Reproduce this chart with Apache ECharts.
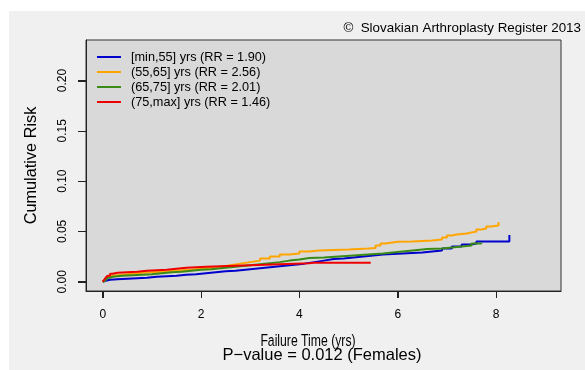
<!DOCTYPE html>
<html>
<head>
<meta charset="utf-8">
<script src="https://cdn.jsdelivr.net/npm/echarts@6/dist/echarts.min.js"></script>
<style>
html,body{margin:0;padding:0;background:#fff}
#wrap{position:relative;width:585px;height:370px;background:#fff}
#panel{position:absolute;left:9px;top:11px;right:0;bottom:0;background:#f0f0f0}
#c{position:absolute;left:0;top:0;width:585px;height:370px}
</style>
</head>
<body>
<div id="wrap"><div id="panel"></div><div id="c"></div></div>
<script>
// ---- data ----
const seriesNames = ['[min,55] yrs (RR = 1.90)', '(55,65] yrs (RR = 2.56)', '(65,75] yrs (RR = 2.01)', '(75,max] yrs (RR = 1.46)'];
const xTicks = [0, 2, 4, 6, 8];
const yTicks = [0, 0.05, 0.10, 0.15, 0.20];

const tBlue = [0, 0.03, 0.06, 0.1, 0.15, 0.3, 0.5, 0.7, 0.9, 1.1, 1.3, 1.5, 1.7, 1.9, 2.1, 2.3, 2.5, 2.7, 2.9, 3.1, 3.3, 3.5, 3.7, 3.9, 4.1, 4.3, 4.5, 4.7, 4.9, 5.1, 5.3, 5.5, 5.7, 5.9, 6.1, 6.3, 6.5, 6.7, 6.9, 7.1, 7.3, 7.5, 7.6, 8.27, 8.27];
const vBlue = [0, 0.001, 0.0015, 0.002, 0.0025, 0.003, 0.0035, 0.004, 0.005, 0.0055, 0.006, 0.007, 0.0075, 0.0085, 0.0095, 0.0105, 0.011, 0.012, 0.013, 0.014, 0.015, 0.016, 0.017, 0.018, 0.0195, 0.021, 0.0225, 0.023, 0.024, 0.025, 0.026, 0.027, 0.0275, 0.028, 0.0285, 0.029, 0.030, 0.031, 0.033, 0.035, 0.037, 0.038, 0.040, 0.040, 0.0465];

const tOrange = [0, 0.03, 0.06, 0.1, 0.15, 0.2, 0.4, 0.6, 0.8, 1.0, 1.2, 1.4, 1.6, 1.8, 2.0, 2.2, 2.4, 2.6, 2.8, 3.0, 3.2, 3.4, 3.6, 3.8, 4.0, 4.2, 4.4, 4.7, 5.0, 5.2, 5.4, 5.55, 5.65, 5.75, 6.0, 6.3, 6.5, 6.7, 6.9, 7.0, 7.1, 7.2, 7.3, 7.4, 7.5, 7.6, 7.7, 7.8, 7.9, 8.05];
const vOrange = [0, 0.002, 0.004, 0.005, 0.006, 0.007, 0.008, 0.009, 0.0095, 0.010, 0.011, 0.0115, 0.012, 0.013, 0.014, 0.015, 0.0165, 0.018, 0.0195, 0.021, 0.023, 0.025, 0.027, 0.028, 0.030, 0.031, 0.0315, 0.032, 0.0325, 0.033, 0.0335, 0.036, 0.038, 0.0398, 0.040, 0.0405, 0.041, 0.042, 0.044, 0.046, 0.047, 0.0475, 0.048, 0.049, 0.050, 0.052, 0.053, 0.055, 0.056, 0.0595];

const tGreen = [0, 0.03, 0.06, 0.1, 0.15, 0.2, 0.4, 0.6, 0.8, 1.0, 1.2, 1.4, 1.6, 1.8, 2.0, 2.2, 2.4, 2.6, 2.8, 3.0, 3.2, 3.4, 3.6, 3.8, 4.0, 4.2, 4.5, 4.8, 5.1, 5.4, 5.7, 6.0, 6.3, 6.6, 6.9, 7.1, 7.3, 7.5, 7.7];
const vGreen = [0, 0.0015, 0.003, 0.004, 0.005, 0.006, 0.0065, 0.007, 0.0075, 0.0085, 0.0095, 0.010, 0.011, 0.012, 0.0125, 0.0135, 0.0145, 0.0155, 0.0165, 0.0175, 0.0185, 0.0195, 0.021, 0.022, 0.0235, 0.024, 0.025, 0.026, 0.027, 0.028, 0.0295, 0.031, 0.0325, 0.033, 0.034, 0.035, 0.036, 0.038, 0.039];

const tRed = [0, 0.03, 0.06, 0.1, 0.15, 0.2, 0.3, 0.5, 0.7, 0.9, 1.1, 1.3, 1.5, 1.7, 1.9, 2.1, 2.4, 2.7, 3.0, 3.3, 3.6, 3.9, 4.2, 4.3, 5.45];
const vRed = [0, 0.002, 0.004, 0.006, 0.008, 0.009, 0.0095, 0.010, 0.011, 0.0115, 0.012, 0.013, 0.014, 0.0145, 0.015, 0.0155, 0.016, 0.0165, 0.017, 0.0175, 0.018, 0.0185, 0.0188, 0.019, 0.019];

const colors = ['#0000CD', '#FFA500', '#3A8A18', '#EE0000'];
// ---------------

const X_MIN = -0.34, X_MAX = 9.32, Y_MIN = -0.0092, Y_MAX = 0.2403;

function pairs(t, v) { return t.map((x, i) => [x, v[i]]); }
const allData = [pairs(tBlue, vBlue), pairs(tOrange, vOrange), pairs(tGreen, vGreen), pairs(tRed, vRed)];

const chart = echarts.init(document.getElementById('c'), null, {renderer: 'canvas'});
const F = 'Arial, "Liberation Sans", sans-serif';

const lineSeries = seriesNames.map((n, i) => ({
  name: n, type: 'line', step: 'end', symbol: 'none', data: allData[i],
  lineStyle: {color: colors[i], width: 2}, itemStyle: {color: colors[i]}
}));

// tick marks drawn through the axis scales (outside the plot box)
const tickSeries = [
  {
    type: 'custom', clip: false, silent: true, z: 5,
    data: xTicks.map(v => [v, Y_MIN]),
    renderItem: function (params, api) {
      const p = api.coord([api.value(0), api.value(1)]);
      const x = Math.round(p[0]) + 0.5;
      return {type: 'line', shape: {x1: x, y1: p[1], x2: x, y2: p[1] + 7}, style: {stroke: '#222', lineWidth: 1}};
    }
  },
  {
    type: 'custom', clip: false, silent: true, z: 5,
    data: yTicks.map(v => [X_MIN, v]),
    renderItem: function (params, api) {
      const p = api.coord([api.value(0), api.value(1)]);
      const y = Math.round(p[1]) + 0.5;
      return {type: 'line', shape: {x1: p[0] - 8, y1: y, x2: p[0], y2: y}, style: {stroke: '#222', lineWidth: 1}};
    }
  }
];

chart.setOption({
  animation: false,
  backgroundColor: 'transparent',
  tooltip: {show: false},
  graphic: [
    {type: 'text', z: 10, x: 581, y: 28, style: {text: '\u00A9  Slovakian Arthroplasty Register 2013', font: '13.4px ' + F, fill: '#000', align: 'right', verticalAlign: 'middle'}},
    {type: 'text', z: 10, x: 308, y: 342, scaleX: 0.75, style: {text: 'Failure Time (yrs)', font: '16.3px ' + F, fill: '#000', align: 'center', verticalAlign: 'middle'}},
    {type: 'text', z: 10, x: 322, y: 355, style: {text: 'P\u2212value = 0.012 (Females)', font: '16.5px ' + F, fill: '#000', align: 'center', verticalAlign: 'middle'}}
  ],
  grid: {left: 86, top: 40, right: 24, bottom: 79, show: true, backgroundColor: '#d9d9d9', borderColor: '#333', borderWidth: 1},
  legend: {
    left: 92, top: 45, orient: 'vertical', icon: 'rect', itemWidth: 24, itemHeight: 2, itemGap: 1,
    textStyle: {fontFamily: F, fontSize: 12.7, lineHeight: 14, color: '#000', padding: [0, 0, 0, 5]},
    data: seriesNames
  },
  xAxis: {
    type: 'value', min: X_MIN, max: X_MAX,
    axisLine: {show: true, onZero: false, lineStyle: {color: '#222', width: 1}},
    splitLine: {show: false},
    axisTick: {show: true, inside: false, length: 7, customValues: xTicks, lineStyle: {color: '#222', width: 1}},
    axisLabel: {customValues: xTicks, margin: 18, fontFamily: F, fontSize: 12, color: '#000'}
  },
  yAxis: {
    type: 'value', min: Y_MIN, max: Y_MAX,
    axisLine: {show: true, onZero: false, lineStyle: {color: '#222', width: 1}},
    splitLine: {show: false},
    axisTick: {show: true, inside: false, length: 8, customValues: yTicks, lineStyle: {color: '#222', width: 1}},
    axisLabel: {customValues: yTicks, margin: 17, rotate: 90, fontFamily: F, fontSize: 12, color: '#000', formatter: v => v.toFixed(2)},
    name: 'Cumulative Risk', nameLocation: 'middle', nameRotate: 90, nameGap: 46,
    nameTextStyle: {fontFamily: F, fontSize: 16.3, color: '#000'}
  },
  series: lineSeries.concat(tickSeries)
});
</script>
</body>
</html>
